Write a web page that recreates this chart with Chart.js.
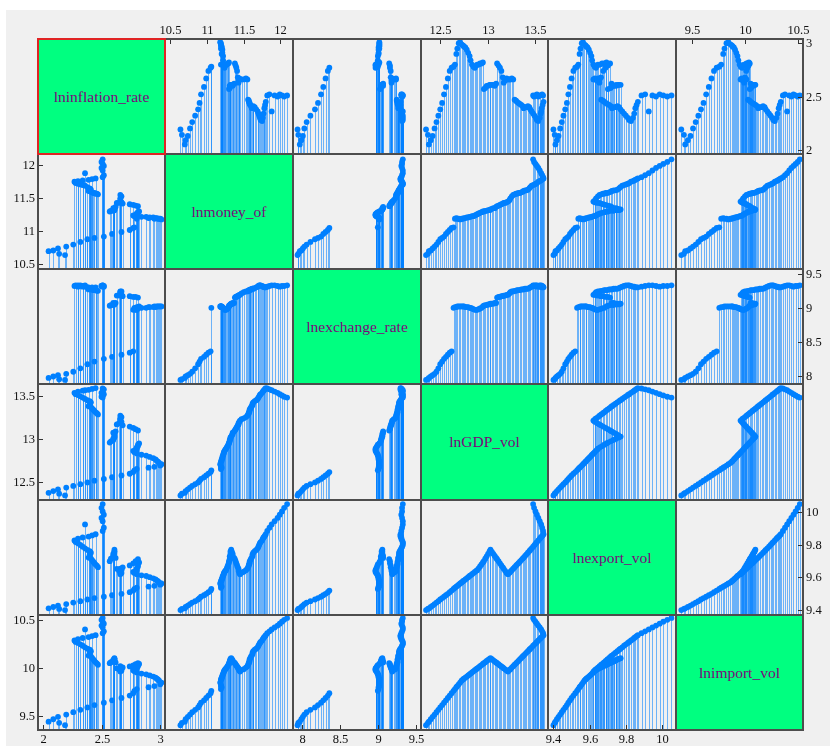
<!DOCTYPE html>
<html>
<head>
<meta charset="utf-8">
<script src="https://cdn.jsdelivr.net/npm/chart.js@4/dist/chart.umd.min.js"></script>
<style>
  html, body { margin: 0; padding: 0; background: #ffffff; }
  #fig { position: absolute; left: 0; top: 0; width: 830px; height: 746px; background: #ffffff; overflow: hidden; }
  #bg { position: absolute; left: 6px; top: 10px; right: 0; bottom: 0; background: #f0f0f0; }
  .diag { position: absolute; background: #00ff80; display: flex; align-items: center; justify-content: center;
          font-family: "Liberation Serif", "Times New Roman", serif; font-size: 15.5px; color: #7a087a; z-index: 1; }
  .wrap { position: absolute; z-index: 2; }
  .gl { position: absolute; background: #4d4d4d; z-index: 3; }
  .sel { position: absolute; box-sizing: border-box; border: 2px solid #e02424; z-index: 4; }
</style>
</head>
<body>
<div id="fig"><div id="bg"></div></div>
<script>
// Observations in time order
const inflation = [
  2.19,2.14,2.05,2.09,2.13,2.20,2.26,2.32,2.38,2.44,
  2.52,2.59,2.67,2.74,2.77,2.78,2.80,2.90,2.95,3.00,
  3.01,2.99,2.98,2.97,2.96,2.94,2.91,2.88,2.84,2.80,
  2.78,2.77,2.79,2.80,2.80,2.81,2.81,2.82,2.57,2.58,
  2.60,2.60,2.61,2.61,2.61,2.61,2.60,2.62,2.81,2.79,
  2.77,2.74,2.68,2.63,2.65,2.67,2.66,2.66,2.66,2.67,
  2.66,2.47,2.46,2.45,2.44,2.43,2.42,2.41,2.39,2.40,
  2.40,2.41,2.40,2.38,2.36,2.34,2.32,2.30,2.28,2.27,
  2.30,2.34,2.39,2.42,2.45,2.51,2.52,2.36,2.51,2.50,
  2.52,2.51,2.50,2.51
];
const money = [
  10.64,10.66,10.70,10.71,10.74,10.77,10.80,10.84,10.88,10.90,
  10.92,10.96,10.99,11.02,11.05,11.06,11.19,11.20,11.19,11.19,
  11.18,11.19,11.19,11.20,11.20,11.21,11.21,11.22,11.22,11.23,
  11.23,11.24,11.25,11.26,11.27,11.28,11.29,11.30,11.30,11.31,
  11.31,11.32,11.32,11.33,11.34,11.35,11.35,11.37,11.38,11.39,
  11.40,11.41,11.42,11.43,11.43,11.44,11.45,11.47,11.50,11.53,
  11.55,11.56,11.57,11.57,11.58,11.58,11.59,11.60,11.61,11.62,
  11.62,11.63,11.65,11.67,11.69,11.70,11.71,11.72,11.73,11.75,
  11.76,11.77,11.78,11.79,11.80,11.82,11.85,11.88,11.92,11.96,
  11.99,12.02,12.05,12.09
];
const exchange = [
  7.94,7.95,7.97,7.99,8.01,8.03,8.06,8.11,8.17,8.21,
  8.25,8.28,8.31,8.34,8.36,9.00,9.01,9.01,9.02,9.02,
  9.02,9.02,9.02,9.02,9.01,9.01,9.01,9.00,9.00,8.99,
  8.98,8.97,8.97,8.97,8.98,8.99,9.00,9.02,9.03,9.04,
  9.04,9.05,9.05,9.06,9.06,9.06,9.07,9.07,9.15,9.16,
  9.16,9.17,9.17,9.18,9.18,9.19,9.19,9.21,9.23,9.24,
  9.24,9.25,9.25,9.26,9.26,9.26,9.27,9.27,9.27,9.28,
  9.28,9.28,9.29,9.30,9.31,9.32,9.33,9.33,9.33,9.32,
  9.31,9.31,9.30,9.30,9.30,9.31,9.32,9.33,9.33,9.32,
  9.31,9.32,9.32,9.33
];
const gdp = [
  12.35,12.37,12.38,12.40,12.42,12.44,12.46,12.48,12.50,12.52,
  12.54,12.56,12.58,12.60,12.62,12.64,12.655,12.67,12.68,12.695,
  12.71,12.725,12.74,12.75,12.765,12.78,12.795,12.81,12.82,12.835,
  12.85,12.865,12.88,12.89,12.905,12.92,12.935,12.95,12.96,12.975,
  12.99,13.005,13.02,13.03,13.045,13.06,13.075,13.09,13.10,13.115,
  13.13,13.145,13.16,13.17,13.185,13.20,13.215,13.23,13.24,13.255,
  13.27,13.285,13.30,13.31,13.325,13.34,13.355,13.37,13.38,13.395,
  13.41,13.425,13.44,13.45,13.465,13.48,13.495,13.51,13.52,13.535,
  13.55,13.56,13.57,13.58,13.59,13.585,13.575,13.565,13.55,13.535,
  13.52,13.505,13.49,13.48
];
const exportVol = [
  9.400,9.407,9.411,9.419,9.428,9.437,9.446,9.455,9.465,9.474,
  9.482,9.491,9.500,9.510,9.520,9.530,9.537,9.544,9.549,9.556,
  9.563,9.570,9.577,9.581,9.588,9.595,9.602,9.609,9.613,9.620,
  9.627,9.634,9.641,9.645,9.656,9.668,9.680,9.692,9.700,9.715,
  9.730,9.745,9.760,9.770,9.757,9.745,9.732,9.720,9.712,9.700,
  9.687,9.674,9.662,9.653,9.641,9.628,9.620,9.629,9.635,9.645,
  9.654,9.663,9.673,9.679,9.688,9.697,9.707,9.716,9.722,9.732,
  9.742,9.752,9.762,9.769,9.779,9.789,9.799,9.810,9.817,9.827,
  9.838,9.845,9.851,9.858,9.865,9.885,9.905,9.925,9.945,9.965,
  9.985,10.005,10.027,10.050
];
const importVol = [
  9.400,9.425,9.437,9.462,9.487,9.511,9.536,9.561,9.586,9.610,
  9.635,9.660,9.685,9.709,9.734,9.759,9.777,9.796,9.808,9.827,
  9.845,9.864,9.878,9.885,9.897,9.908,9.920,9.931,9.939,9.951,
  9.962,9.974,9.985,9.993,10.004,10.016,10.027,10.039,10.047,10.058,
  10.070,10.081,10.093,10.100,10.089,10.077,10.066,10.055,10.047,10.036,
  10.024,10.013,10.002,9.994,9.983,9.971,9.960,9.975,9.985,10.001,
  10.016,10.031,10.046,10.056,10.071,10.087,10.102,10.117,10.127,10.142,
  10.158,10.173,10.188,10.198,10.213,10.229,10.244,10.259,10.269,10.284,
  10.299,10.310,10.320,10.330,10.340,10.360,10.380,10.400,10.420,10.440,
  10.460,10.480,10.500,10.520
];

const varNames = ['lninflation_rate', 'lnmoney_of', 'lnexchange_rate', 'lnGDP_vol', 'lnexport_vol', 'lnimport_vol'];

// Tick labels for each variable's axis
const inflationTicks = [2, 2.5, 3];
const moneyTicks = [10.5, 11, 11.5, 12];
const exchangeTicks = [8, 8.5, 9, 9.5];
const gdpTicks = [12.5, 13, 13.5];
const exportTicks = [9.4, 9.6, 9.8, 10];
const importTicks = [9.5, 10, 10.5];

const series = [inflation, money, exchange, gdp, exportVol, importVol];
const ticks = [inflationTicks, moneyTicks, exchangeTicks, gdpTicks, exportTicks, importTicks];
const axisMin = [1.96, 10.43, 7.88, 12.297, 9.37, 9.35];
const axisMax = [3.04, 12.17, 9.57, 13.637, 10.075, 10.55];

// Grid geometry (page pixels)
const CX = [38, 165, 293, 421, 548, 676, 803];
const RY = [39, 154, 269, 384, 500, 615, 730];
const M = 30;

const fig = document.getElementById('fig');

// Vertical needle from every point down to the panel floor
const dropLines = {
  id: 'dropLines',
  beforeDatasetsDraw(chart) {
    const { ctx, chartArea: a } = chart;
    const meta = chart.getDatasetMeta(0);
    ctx.save();
    ctx.beginPath();
    ctx.rect(a.left, a.top, a.right - a.left, a.bottom - a.top);
    ctx.clip();
    ctx.strokeStyle = 'rgba(0,128,255,0.55)';
    ctx.lineWidth = 1;
    for (const pt of meta.data) {
      const x = Math.round(pt.x) + 0.5;
      ctx.beginPath();
      ctx.moveTo(x, pt.y);
      ctx.lineTo(x, a.bottom);
      ctx.stroke();
    }
    ctx.restore();
  }
};

// Inner tick marks and outer labels on the matrix edges
function makeEdgeAxes(spec) {
  return {
    id: 'edgeAxes',
    afterDraw(chart) {
      const { ctx, chartArea: a, scales } = chart;
      ctx.save();
      ctx.font = '12.5px "Liberation Serif", "Times New Roman", serif';
      ctx.fillStyle = '#111';
      ctx.strokeStyle = '#333';
      ctx.lineWidth = 1;
      const tl = 5;
      if (spec.top) {
        ctx.textAlign = 'center'; ctx.textBaseline = 'middle';
        for (const v of spec.top) {
          const x = Math.round(scales.x.getPixelForValue(v)) + 0.5;
          ctx.beginPath(); ctx.moveTo(x, a.top); ctx.lineTo(x, a.top + tl); ctx.stroke();
          ctx.fillText(String(v), x, a.top - 8);
        }
      }
      if (spec.bottom) {
        ctx.textAlign = 'center'; ctx.textBaseline = 'middle';
        for (const v of spec.bottom) {
          const x = Math.round(scales.x.getPixelForValue(v)) + 0.5;
          ctx.beginPath(); ctx.moveTo(x, a.bottom); ctx.lineTo(x, a.bottom - tl); ctx.stroke();
          ctx.fillText(String(v), x, a.bottom + 10);
        }
      }
      if (spec.left) {
        ctx.textAlign = 'right'; ctx.textBaseline = 'middle';
        for (const v of spec.left) {
          const y = Math.round(scales.y.getPixelForValue(v)) + 0.5;
          ctx.beginPath(); ctx.moveTo(a.left, y); ctx.lineTo(a.left + tl, y); ctx.stroke();
          ctx.fillText(String(v), a.left - 3, y);
        }
      }
      if (spec.right) {
        ctx.textAlign = 'left'; ctx.textBaseline = 'middle';
        for (const v of spec.right) {
          const y = Math.round(scales.y.getPixelForValue(v)) + 0.5;
          ctx.beginPath(); ctx.moveTo(a.right, y); ctx.lineTo(a.right - tl, y); ctx.stroke();
          ctx.fillText(String(v), a.right + 3, y);
        }
      }
      ctx.restore();
    }
  };
}

for (let r = 0; r < 6; r++) {
  for (let c = 0; c < 6; c++) {
    const w = CX[c + 1] - CX[c];
    const h = RY[r + 1] - RY[r];
    if (r === c) {
      const d = document.createElement('div');
      d.className = 'diag';
      d.style.left = CX[c] + 'px'; d.style.top = RY[r] + 'px';
      d.style.width = w + 'px'; d.style.height = h + 'px';
      d.textContent = varNames[r];
      fig.appendChild(d);
      continue;
    }
    const wrap = document.createElement('div');
    wrap.className = 'wrap';
    wrap.style.left = (CX[c] - M) + 'px'; wrap.style.top = (RY[r] - M) + 'px';
    wrap.style.width = (w + 2 * M) + 'px'; wrap.style.height = (h + 2 * M) + 'px';
    const cv = document.createElement('canvas');
    cv.width = w + 2 * M; cv.height = h + 2 * M;
    cv.style.width = (w + 2 * M) + 'px'; cv.style.height = (h + 2 * M) + 'px';
    wrap.appendChild(cv);
    fig.appendChild(wrap);

    const xs = series[c], ys = series[r];
    const pts = xs.map((v, i) => ({ x: v, y: ys[i] }));
    const spec = {
      top: (r === 0 && c % 2 === 1) ? ticks[c] : null,
      bottom: (r === 5 && c % 2 === 0) ? ticks[c] : null,
      left: (c === 0 && r % 2 === 1) ? ticks[r] : null,
      right: (c === 5 && r % 2 === 0) ? ticks[r] : null
    };

    new Chart(cv, {
      type: 'scatter',
      data: {
        datasets: [{
          data: pts,
          pointRadius: 2.9,
          pointHoverRadius: 2.9,
          pointBackgroundColor: 'rgb(0,128,255)',
          pointBorderWidth: 0,
          showLine: false
        }]
      },
      options: {
        responsive: false,
        animation: false,
        events: [],
        layout: { padding: M },
        scales: {
          x: { type: 'linear', min: axisMin[c], max: axisMax[c], display: false },
          y: { type: 'linear', min: axisMin[r], max: axisMax[r], display: false }
        },
        plugins: { legend: { display: false }, tooltip: { enabled: false } }
      },
      plugins: [dropLines, makeEdgeAxes(spec)]
    });
  }
}

// Panel borders
for (let i = 0; i < 7; i++) {
  const v = document.createElement('div');
  v.className = 'gl';
  v.style.left = (CX[i] - 1) + 'px'; v.style.top = (RY[0] - 1) + 'px';
  v.style.width = '2px'; v.style.height = (RY[6] - RY[0] + 2) + 'px';
  fig.appendChild(v);
  const hz = document.createElement('div');
  hz.className = 'gl';
  hz.style.left = (CX[0] - 1) + 'px'; hz.style.top = (RY[i] - 1) + 'px';
  hz.style.width = (CX[6] - CX[0] + 2) + 'px'; hz.style.height = '2px';
  fig.appendChild(hz);
}
const sel = document.createElement('div');
sel.className = 'sel';
sel.style.left = (CX[0] - 1) + 'px'; sel.style.top = (RY[0] - 1) + 'px';
sel.style.width = (CX[1] - CX[0] + 2) + 'px'; sel.style.height = (RY[1] - RY[0] + 2) + 'px';
fig.appendChild(sel);
</script>
</body>
</html>
